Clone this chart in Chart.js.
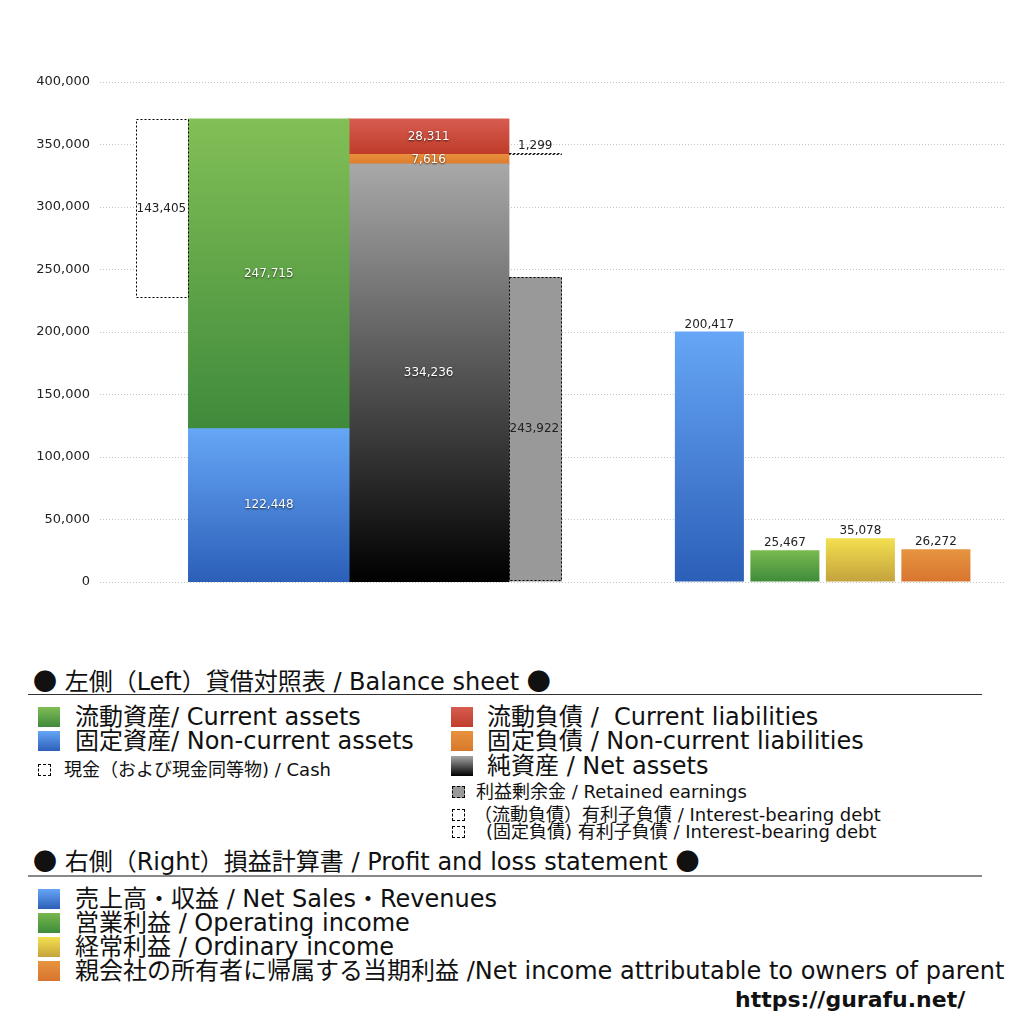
<!DOCTYPE html>
<html>
<head>
<meta charset="utf-8">
<script src="https://cdn.jsdelivr.net/npm/chart.js@4/dist/chart.umd.min.js"></script>
<style>
body{margin:0;background:#fff;width:1024px;height:1024px;overflow:hidden;position:relative;font-family:"DejaVu Sans","Noto Sans CJK JP",sans-serif;color:#111}
#wrap{position:absolute;left:0;top:0;width:1024px;height:640px}
.t{position:absolute;white-space:nowrap;line-height:1}
.j{font-family:"Noto Sans CJK JP",sans-serif}
.big{font-size:24px}
.small{font-size:18px}
.sw{position:absolute;width:22px;height:20px}
.dot{position:absolute;width:13px;height:12px;border:1px dashed #000;box-sizing:border-box}
.rule{position:absolute;left:28px;width:954px}
</style>
</head>
<body>
<div id="wrap"><canvas id="c" width="1024" height="640"></canvas></div>

<!-- left: balance sheet legend -->
<div class="t big" style="left:33px;top:668px"><span class="j">●</span> 左側（Left）貸借対照表 / Balance sheet <span class="j">●</span></div>
<div class="rule" style="top:694px;border-top:1px solid #333"></div>

<div class="sw" style="left:38px;top:707px;background:linear-gradient(#80bd55,#3f8a3b)"></div>
<div class="t big" style="left:75px;top:705px">流動資産/ Current assets</div>
<div class="sw" style="left:38px;top:731px;background:linear-gradient(#66a6f6,#2c5fb8)"></div>
<div class="t big" style="left:75px;top:729px">固定資産/ Non-current assets</div>
<div class="dot" style="left:38px;top:764px"></div>
<div class="t small" style="left:64px;top:761px">現金（および現金同等物) / Cash</div>

<div class="sw" style="left:451px;top:707px;background:linear-gradient(#d65c50,#c03d2a)"></div>
<div class="t big" style="left:487px;top:705px">流動負債 /&nbsp; Current liabilities</div>
<div class="sw" style="left:451px;top:731px;background:linear-gradient(#e8923e,#d8782c)"></div>
<div class="t big" style="left:487px;top:729px">固定負債 / Non-current liabilities</div>
<div class="sw" style="left:451px;top:756px;background:linear-gradient(#a6a6a6,#000)"></div>
<div class="t big" style="left:487px;top:754px">純資産 / Net assets</div>
<div class="dot" style="left:452px;top:786px;background:#999"></div>
<div class="t small" style="left:476px;top:783px">利益剰余金 / Retained earnings</div>
<div class="dot" style="left:452px;top:809px"></div>
<div class="t small" style="left:474px;top:806px">（流動負債）有利子負債 / Interest-bearing debt</div>
<div class="dot" style="left:452px;top:826px"></div>
<div class="t small" style="left:486px;top:823px">(固定負債) 有利子負債 / Interest-bearing debt</div>

<!-- right: profit and loss legend -->
<div class="t big" style="left:33px;top:848px"><span class="j">●</span> 右側（Right）損益計算書 / Profit and loss statement <span class="j">●</span></div>
<div class="rule" style="top:875px;border-top:2px solid #888"></div>

<div class="sw" style="left:38px;top:889px;background:linear-gradient(#66a6f6,#2c5fb8)"></div>
<div class="t big" style="left:75px;top:887px">売上高・収益 / Net Sales・Revenues</div>
<div class="sw" style="left:38px;top:913px;background:linear-gradient(#78b84e,#3d8b3a)"></div>
<div class="t big" style="left:75px;top:911px">営業利益 / Operating income</div>
<div class="sw" style="left:38px;top:937px;background:linear-gradient(#f3e04f,#c5a43c)"></div>
<div class="t big" style="left:75px;top:935px">経常利益 / Ordinary income</div>
<div class="sw" style="left:38px;top:961px;background:linear-gradient(#e6943e,#d87430)"></div>
<div class="t big" style="left:75px;top:959px">親会社の所有者に帰属する当期利益 /Net income attributable to owners of parent</div>

<div class="t" style="left:735px;top:989px;font-size:22px;font-weight:bold">https://gurafu.net/</div>

<script>
// ===== DATA =====
// balance sheet (left)
const assetNames = ['固定資産', '流動資産'];
const assetValues = [122448, 247715];
const claimNames = ['純資産', '固定負債', '流動負債'];
const claimValues = [334236, 7616, 28311];
const cashValue = 143405;
const retainedEarnings = 243922;
// interest-bearing debt: [current, non-current]
const debtNames = ['（流動負債）有利子負債', '(固定負債) 有利子負債'];
const debtValues = [1299, 0];

// profit and loss (right)
const plNames = ['売上高・収益', '営業利益', '経常利益', '親会社の所有者に帰属する当期利益'];
const plValues = [200417, 25467, 35078, 26272];

// y axis
const yMax = 400000;
const yStep = 50000;

// ===== COLORS =====
const assetColors = [['#66a6f6', '#2c5fb8'], ['#82bf56', '#3f8a3b']];
const claimColors = [['#a8a8a8', '#000000'], ['#e98f3c', '#dc7a2c'], ['#d65c50', '#bf3b28']];
const plColors = [['#66a6f6', '#2c5fb8'], ['#7aba50', '#3d8b3a'], ['#f3e04f', '#c3a23c'], ['#e6953f', '#d87430']];

// ===== SLOT LAYOUT =====
// left group: 51 narrow slots, bars are 3 / 9 / 9 / 3 slots wide
const leftSlots = 51;
const leftCols = {cash: ['現金', 3, 3], assets: ['資産', 9, 9], claims: ['負債・純資産', 18, 9], re: ['利益剰余金', 24, 3]};
// right group: 84 slots, one bar every 7 slots
const rightSlots = 84;
const rightFirst = 56, rightStep = 7, rightWidth = 6.4;

const leftLabels = Array(leftSlots).fill('');
Object.values(leftCols).forEach(c => leftLabels[c[1]] = c[0]);
const rightLabels = Array(rightSlots).fill('');
plNames.forEach((n, i) => rightLabels[rightFirst + i * rightStep] = n);

// ===== HELPERS =====
function grad(top, bottom){
    return ctx => {
        const chart = ctx.chart;
        if(!chart.chartArea || ctx.type !== 'data') return top;
        const y = chart.scales.y;
        const v = ctx.raw.y;
        const lo = Array.isArray(v) ? v[0] : 0;
        const hi = Array.isArray(v) ? v[1] : v;
        const g = chart.ctx.createLinearGradient(0, y.getPixelForValue(hi), 0, y.getPixelForValue(lo));
        g.addColorStop(0, top);
        g.addColorStop(1, bottom);
        return g;
    };
}

function stackUp(names, values, col, colors){
    let base = 0;
    return names.map((n, i) => {
        const d = {
            label: n,
            xAxisID: 'xL',
            data: [{x: col[0], y: [base, base + values[i]]}],
            backgroundColor: grad(colors[i][0], colors[i][1]),
            barPercentage: col[2],
            inflateAmount: 0.8,
            labelPos: 'inside'
        };
        base += values[i];
        return d;
    });
}

const totalAssets = assetValues.reduce((a, b) => a + b, 0);

const datasets = [
    ...stackUp(assetNames, assetValues, leftCols.assets, assetColors),
    ...stackUp(claimNames, claimValues, leftCols.claims, claimColors),
    {
        label: '現金',
        xAxisID: 'xL',
        data: [{x: leftCols.cash[0], y: [totalAssets - cashValue, totalAssets]}],
        backgroundColor: '#ffffff',
        barPercentage: leftCols.cash[2],
        dashed: true,
        labelPos: 'left'
    },
    {
        label: '利益剰余金',
        xAxisID: 'xL',
        data: [{x: leftCols.re[0], y: [0, retainedEarnings]}],
        backgroundColor: '#999999',
        barPercentage: leftCols.re[2],
        dashed: true,
        labelPos: 'left'
    }
];

// interest-bearing debt sits on the bottom of its liability block
const debtBase = [claimValues[0] + claimValues[1], claimValues[0]];
debtValues.forEach((v, i) => {
    if(v <= 0) return;
    datasets.push({
        label: debtNames[i],
        xAxisID: 'xL',
        data: [{x: leftCols.re[0], y: [debtBase[i], debtBase[i] + v]}],
        backgroundColor: 'rgba(255,255,255,0)',
        barPercentage: leftCols.re[2],
        dashed: true,
        labelPos: 'top'
    });
});

datasets.push({
    label: '損益計算書',
    xAxisID: 'xR',
    data: plNames.map((n, i) => ({x: n, y: plValues[i]})),
    backgroundColor: ctx => grad(plColors[ctx.dataIndex][0], plColors[ctx.dataIndex][1])(ctx),
    barPercentage: rightWidth,
    labelPos: 'top'
});

datasets.forEach(d => {
    d.grouped = false;
    d.categoryPercentage = 1;
    d.borderWidth = 0;
});

// ===== PLUGIN: dashed outlines + value labels =====
const fmt = v => v.toLocaleString('en-US');

const barDecor = {
    id: 'barDecor',
    afterDatasetsDraw(chart){
        const ctx = chart.ctx;
        chart.data.datasets.forEach((ds, di) => {
            const meta = chart.getDatasetMeta(di);
            meta.data.forEach((bar, i) => {
                const p = bar.getProps(['x', 'y', 'base', 'width'], true);
                const top = Math.min(p.y, p.base), bot = Math.max(p.y, p.base);
                const left = p.x - p.width / 2;
                if(ds.dashed){
                    ctx.save();
                    ctx.setLineDash([2, 2]);
                    ctx.strokeStyle = '#000';
                    ctx.lineWidth = 1;
                    ctx.strokeRect(Math.round(left) + 0.5, Math.round(top) + 0.5, Math.round(p.width) - 1, Math.max(Math.round(bot - top) - 1, 0));
                    ctx.restore();
                }
                const raw = ds.data[i].y;
                const val = Array.isArray(raw) ? raw[1] - raw[0] : raw;
                ctx.save();
                ctx.font = '12px "DejaVu Sans", sans-serif';
                ctx.textBaseline = 'middle';
                if(ds.labelPos === 'inside'){
                    ctx.textAlign = 'center';
                    ctx.fillStyle = '#ffffff';
                    ctx.shadowColor = 'rgba(0,0,0,0.7)';
                    ctx.shadowBlur = 2;
                    ctx.shadowOffsetY = 1;
                    ctx.fillText(fmt(val), p.x, (top + bot) / 2);
                } else if(ds.labelPos === 'left'){
                    ctx.textAlign = 'left';
                    ctx.fillStyle = '#222';
                    ctx.fillText(fmt(val), left + 1, (top + bot) / 2);
                } else {
                    ctx.textAlign = 'center';
                    ctx.textBaseline = 'bottom';
                    ctx.fillStyle = '#222';
                    ctx.fillText(fmt(val), p.x, top - 1);
                }
                ctx.restore();
            });
        });
    }
};

// ===== CHART =====
new Chart(document.getElementById('c'), {
    type: 'bar',
    data: {datasets: datasets},
    options: {
        responsive: false,
        animation: false,
        layout: {padding: {top: 82, right: 18, bottom: 58, left: 0}},
        plugins: {legend: {display: false}, tooltip: {enabled: false}},
        scales: {
            xL: {type: 'category', labels: leftLabels, offset: true, display: false, position: 'bottom', ticks: {autoSkip: false}},
            xR: {type: 'category', labels: rightLabels, offset: true, display: false, position: 'bottom', ticks: {autoSkip: false}},
            y: {
                min: 0,
                max: yMax,
                afterFit(scale){ scale.width = 100; },
                ticks: {
                    stepSize: yStep,
                    padding: 10,
                    color: '#222',
                    font: {family: 'DejaVu Sans', size: 13},
                    callback: v => fmt(v)
                },
                grid: {color: '#c4c4c4', drawTicks: false},
                border: {display: false, dash: [1, 2]}
            }
        }
    },
    plugins: [barDecor]
});
</script>
</body>
</html>
